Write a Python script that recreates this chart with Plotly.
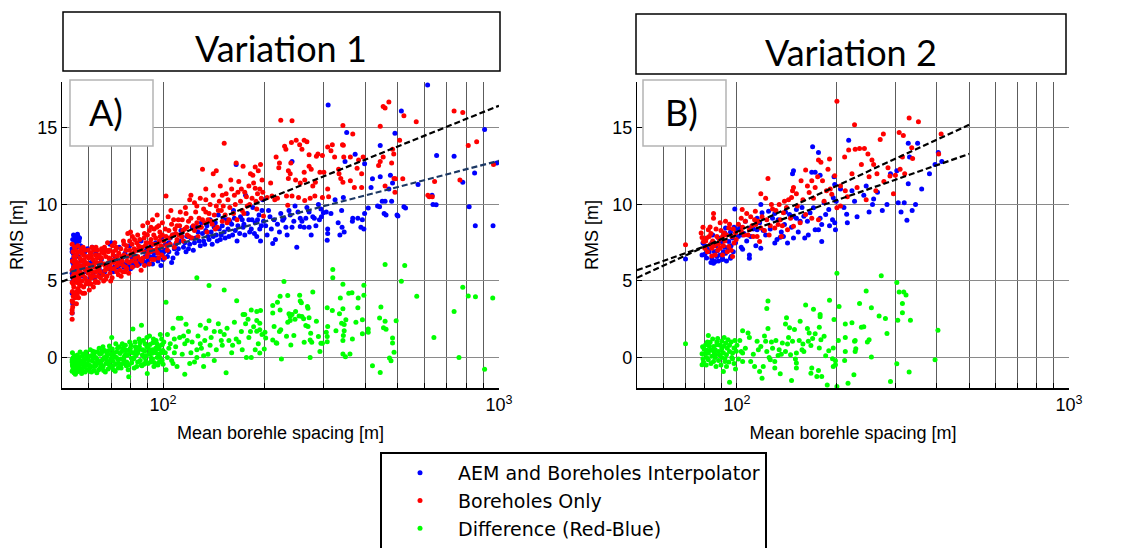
import plotly.graph_objects as go

# ---------------- data ----------------
# Panel A (Variation 1)
a_blue = [
    (53.6,2.9),(53.8,3.5),(53.6,4.2),(53.9,5.0),(53.6,5.5),(54.2,6.0),(53.7,6.4),(54.0,6.8),(53.6,7.1),(54.4,7.4),
    (53.8,7.7),(54.1,8.0),(55.0,7.8),(55.6,8.05),(56.2,7.6),(55.3,7.2),(56.8,7.3),(57.5,7.0),(58.5,6.9),(59.5,7.1),
    (56.0,6.6),(57.0,6.3),(58.0,6.0),(55.2,5.8),(59.0,5.6),(57.8,5.3),(60.5,5.2),(62.0,5.5),(61.0,6.2),(63.0,6.8),
    (61.5,7.2),(64.5,5.8),(65.5,6.4),(66.0,5.6),(67.0,7.0),(68.5,6.0),(69.5,7.4),(70.0,7.5),(71.0,5.6),(72.0,6.6),
    (73.0,5.9),(74.0,7.2),(75.0,6.3),(76.5,5.9),(77.0,6.8),(78.0,6.2),(79.5,7.3),(80.0,5.8),(81.0,6.5),(82.0,6.0),
    (83.0,7.0),(84.0,6.3),(85.0,6.1),(86.0,7.6),(87.0,6.4),(88.0,6.2),(89.0,7.0),(90.0,6.3),(91.0,6.6),(92.0,7.3),
    (93.0,6.1),(94.0,6.8),(95.0,7.5),(96.0,6.5),(97.0,7.0),(98.0,6.9),(99.0,7.8),(100,6.4),
    (53.7,5.3),(54.0,5.8),(53.8,6.2),(54.3,6.6),(53.6,6.9),(54.6,7.6),(55.2,7.5),(55.8,7.9),(54.8,7.9),(56.4,7.8),
    (60.0,4.9),(62.5,5.2),(64.8,5.4),(67.0,5.6),(69.0,5.8),(71.5,5.9),(74.0,6.0),(76.0,6.1),(78.5,6.0),(80.5,6.2),
    (83.0,6.4),(85.5,6.3),(88.5,6.6),(90.5,6.1),(93.5,6.6),(96.5,6.3),(99.5,6.7),(98.5,6.0),
    (101,7.0),(103,6.6),(104,7.5),(106,6.2),(107,8.0),(108,7.1),(110,6.8),(112,7.6),(113,8.3),(115,7.2),
    (117,6.9),(118,7.9),(120,7.4),(122,8.5),(123,7.0),(125,7.8),(127,8.2),(129,7.3),(130,8.8),(132,7.6),
    (134,8.3),(136,7.9),(138,9.0),(140,7.4),(142,8.5),(144,8.0),(146,9.3),(148,7.7),(150,8.6),(152,8.2),
    (155,9.0),(157,7.9),(160,8.7),(162,9.6),(164,8.3),(165,12.6),(166,7.6),(170,9.2),(173,8.5),(175,8.0),
    (176,10.6),(180,9.0),(183,8.4),(185,9.8),(188,8.8),(190,7.9),(193,9.3),(195,7.6),(196,8.6),(198,10.3),
    (100.5,6.9),(102,7.4),(104,6.9),(105,7.8),(107,6.5),(109,7.4),(111,7.1),(114,7.9),(116,7.5),(119,7.1),
    (121,7.8),(124,7.5),(126,8.5),(128,7.6),(131,8.1),(133,7.4),(135,8.6),(137,7.7),(139,8.2),(141,7.9),
    (143,8.8),(145,7.6),(147,8.4),(149,8.0),(151,9.1),(153,7.8),(156,8.4),(158,8.9),(161,8.0),(163,9.1),
    (167,8.6),(169,8.1),(172,9.0),(174,8.7),(178,9.4),(181,8.2),(184,9.0),(187,8.1),(191,9.0),(194,8.4),
    (197,9.6),(199,8.9),
    (202,8.6),(206,9.6),(210,8.4),(214,9.0),(219,8.7),(224,9.4),(229,9.1),(234,8.0),(239,9.3),(245,8.9),
    (252,9.5),(259,8.9),(268,9.8),(285,8.6),(292,9.0),
    (204,8.0),(208,9.2),(212,7.45),(216,7.7),(222,8.2),(227,8.97),(232,8.5),(237,9.6),(242,8.5),(242,12.8),
    (247,9.9),(250,7.2),(256,8.55),(256,9.1),(263,8.5),(266,9.1),(272,8.5),(272,9.5),(276,8.0),(279,9.2),
    (282,9.1),(290,10.0),(295,9.7),(296,9.2),(300,9.45),(306,9.5),(308,7.65),(309,8.4),(309,8.1),(310,16.5),
    (316,9.4),(325,10.3),(332,8.8),(336,8.0),(340,9.6),(341,8.5),(344,10.45),(346,8.2),(348,12.8),(352,14.7),
    (366,8.9),(367,9.1),(373,13.27),(380,9.1),(388,8.5),(392,9.0),(396,8.4),(398,9.4),(398,12.65),(408,9.76),
    (416,11.1),(420,11.67),(435,9.9),(441,9.85),(443,13.85),(443,11.8),(449,10.2),(455,9.4),(458,10.2),
    (461,9.3),(470,11.0),(475,11.9),(479,10.2),(482,11.4),(490,14.65),(497,9.3),(500,9.25),
    (512,16.1),(521,9.85),(527,9.76),(574,11.3),(613,17.8),(632,10.6),(636,10.0),(650,9.98),(652,13.2),
    (735,13.15),(780,11.45),(815,9.85),(846,12.05),(850,8.6),(906,14.9),(960,8.6),(985,12.7)]

a_red = [
    (53.6,2.5),(53.6,2.9),(53.8,3.3),(53.6,3.7),(54.0,4.0),(53.7,4.3),(54.2,4.6),(53.6,4.9),(54.4,5.1),(53.8,5.3),
    (54.6,5.5),(53.6,5.7),(54.1,5.9),(54.8,6.1),(53.7,6.3),(54.3,6.6),(53.9,6.9),(54.5,7.2),(53.6,7.4),
    (53.6,3.1),(53.9,3.6),(54.7,3.9),(55.3,4.3),(54.0,4.8),(55.0,5.2),(54.2,5.6),(55.5,5.9),(54.6,6.4),(55.2,6.7),
    (54.9,7.0),(55.7,7.3),(54.3,4.2),(55.9,5.0),(55.0,5.5),(54.4,6.2),
    (55.2,3.5),(55.5,4.1),(56.0,3.9),(55.8,4.5),(56.4,4.3),(56.9,4.7),(55.4,4.9),(57.3,5.0),(56.2,5.2),(58.0,4.6),
    (57.6,5.4),(55.9,5.6),(58.6,5.2),(56.7,5.8),(59.2,5.0),(57.9,6.0),(55.6,6.2),(58.8,5.7),(59.6,6.1),(56.5,6.5),
    (58.2,6.4),(57.2,6.8),(59.4,6.6),(55.8,6.9),(58.5,7.0),
    (56.3,4.8),(57.0,5.5),(57.6,4.2),(58.3,5.8),(59.0,4.8),(59.8,5.5),(56.6,6.0),(57.3,6.3),(58.0,6.7),(58.8,6.2),
    (59.4,5.8),(56.9,7.1),(57.8,7.2),(59.9,7.0),(56.1,5.4),(58.4,4.2),
    (60.3,4.4),(61.0,4.8),(62.0,4.6),(60.8,5.3),(63.0,5.0),(61.5,5.6),(64.0,5.3),(62.5,5.9),(60.5,6.0),(65.0,5.6),
    (63.5,6.2),(61.8,6.4),(64.7,6.0),(62.9,6.7),(60.9,6.8),(65.5,6.5),(63.8,7.0),(61.4,7.2),(65.8,6.9),
    (60.2,5.0),(61.2,5.2),(62.2,5.3),(63.2,5.6),(64.2,5.8),(65.3,6.2),(60.6,5.7),(61.6,6.0),(62.6,6.2),(63.6,6.5),
    (64.6,6.7),(65.6,7.1),(60.1,6.5),(61.1,6.6),(62.1,7.0),(63.1,7.2),(64.1,4.9),(65.1,5.2),(60.4,4.8),(62.8,4.9),
    (66.5,5.0),(68.0,5.3),(67.2,5.7),(69.5,5.5),(70.5,5.2),(66.8,6.1),(71.5,5.8),(68.8,6.2),(72.8,5.6),(70.0,6.4),
    (67.5,6.6),(73.5,6.2),(71.0,6.7),(69.2,7.0),(72.2,7.0),(66.9,7.2),(73.8,6.8),(70.6,7.3),(68.3,7.5),
    (66.2,5.4),(67.1,6.0),(68.1,5.8),(69.0,6.5),(70.2,5.8),(71.2,6.2),(72.1,6.4),(73.1,6.6),(66.6,6.8),(67.8,7.0),
    (69.4,6.0),(70.8,6.9),(72.5,7.2),(73.6,5.4),(68.6,6.9),(71.8,7.5),(67.4,5.1),(69.8,5.0),(72.9,6.0),(74.0,6.1),
    (75,5.3),(77,5.6),(79,5.5),(76,6.0),(81,5.9),(78,6.3),(83,6.2),(75.5,6.6),(80,6.7),(84,6.6),
    (77.5,7.0),(82,7.1),(85,7.0),(76.5,7.4),(79.5,7.6),(83.5,7.5),(81,7.9),(78.5,8.1),
    (74.5,5.7),(75.5,6.3),(76.5,6.7),(77.5,5.9),(78.5,6.6),(79.5,7.0),(80.5,6.3),(81.5,6.8),(82.5,6.5),(83.5,7.0),
    (84.5,7.3),(85.5,6.4),(74.8,7.1),(76.2,7.6),(77.8,7.3),(79.2,6.2),(80.8,7.4),(82.2,7.7),(83.8,6.0),(85.2,7.7),
    (80.0,8.2),(84.0,8.0),(76.0,5.6),(78.0,5.8),
    (86,5.7),(88,6.0),(91,6.1),(94,6.4),(97,6.5),(87,6.5),(90,6.8),(93,7.0),(96,7.1),(99,7.2),
    (86.5,7.2),(89,7.5),(92,7.7),(95,7.8),(98,7.9),(88,8.1),(91,8.3),(94,8.4),(97,8.6),(99.5,8.8),(87,8.6),(93,9.0),(96,9.3),
    (86.5,6.3),(87.5,6.9),(88.5,7.3),(89.5,6.6),(90.5,7.1),(91.5,7.5),(92.5,6.4),(93.5,7.4),(94.5,7.0),(95.5,7.4),
    (96.5,6.8),(97.5,7.6),(98.5,7.3),(99.5,8.0),(87.8,7.8),(89.8,8.0),(91.8,6.9),(93.8,8.0),(95.8,8.5),(97.8,8.2),
    (99.0,6.7),(90.0,8.8),(92.0,8.5),
    (101,6.5),(103,7.0),(105,7.4),(102,7.9),(104,8.3),(106,8.7),(102,10.55),(108,7.2),(110,7.7),(109,8.1),
    (112,8.6),(111,9.0),(114,9.0),(110,8.6),(115,7.6),(118,8.0),(116,8.4),(119,8.9),(120,10.3),(121,10.6),
    (117,9.4),(122,7.8),(124,8.3),(125,9.5),(126,8.8),(128,9.1),(127,7.9),(131,12.3),(130,8.5),(132,9.7),
    (134,11.0),(134,9.5),(136,9.0),(135,8.2),(138,10.0),(140,8.7),(141,12.0),(142,9.3),(144,12.2),(144,9.9),
    (145,8.5),(147,10.2),(149,9.6),(150,10.6),(150,8.9),(152,14.0),(153,9.3),(156,10.3),(158,9.8),(155,8.8),
    (160,11.0),(162,9.4),(164,10.0),(165,12.7),(166,9.0),(168,11.5),(170,10.2),(172,9.6),(173,12.5),(175,10.8),
    (178,9.9),(180,11.2),(182,12.0),(184,10.4),(186,11.4),(188,12.45),(188,11.05),(190,9.7),(191,10.7),(192,12.2),
    (195,12.6),(196,10.4),(197,11.6),(199,9.25),
    (100.5,7.6),(101.5,8.4),(102.5,7.3),(103.5,9.2),(104.5,7.8),(105.5,9.6),(106.5,8.0),(107.5,9.0),(108.5,8.4),(109.5,7.5),
    (111.5,8.0),(112.5,9.5),(113.5,7.9),(114.5,8.3),(116.5,9.8),(117.5,8.5),(119.5,7.9),(121,9.1),(123,8.6),(124,10.1),
    (126,9.9),(128,8.5),(129,10.4),(131,9.0),(133,8.8),(134,10.3),(137,9.4),(139,8.9),(141,10.6),(143,8.4),
    (146,9.6),(148,11.2),(151,9.9),(154,10.7),(157,9.0),(159,11.6),(163,10.6),(167,10.8),(171,11.0),(174,9.4),
    (177,10.5),(181,10.0),(185,11.9),(189,10.2),(194,11.0),(198,10.8),
    (204,10.45),(209,11.4),(211,10.55),(215,10.3),(217,13.1),(219,10.4),(222,12.7),(224,15.5),(221,12.4),(230,13.8),
    (232,13.6),(233,10.55),(235,9.95),(236,12.2),(236,11.7),(239,12.0),(240,12.7),(241,14.05),(242,15.46),(242,10.55),
    (248,11.6),(249,14.2),(253,10.45),(255,13.9),(256,11.4),(259,13.6),(263,14.2),(263,12.1),(264,11.6),(264,10.25),
    (268,14.1),(272,13.25),(272,12.5),(274,10.4),(276,12.3),(279,11.2),(283,10.55),(284,11.45),(286,13.15),(289,13.3),
    (293,12.1),(298,13.2),(298,10.45),(301,12.1),(309,13.75),(309,11.0),(311,10.5),(316,13.5),(319,13.9),(324,13.1),
    (333,12.3),(334,12.0),(338,11.7),(342,13.9),(343,15.15),(344,13.86),(345,13.1),(343,11.45),(361,13.1),(361,11.55),
    (367,14.6),(371,11.1),(378,12.37),(382,12.9),(390,12.0),(390,11.1),(394,13.1),(438,12.55),(443,15.1),(443,12.8),
    (452,16.4),(452,13.1),(458,11.2),(458,16.3),(470,16.7),(479,12.7),(482,13.6),(486,13.3),(487,11.7),(490,10.8),
    (492,11.67),(506,14.2),(517,11.67),(521,15.8),(567,15.4),(614,10.6),(620,10.5),(633,10.5),(643,11.5),
    (735,16.1),(765,11.6),(780,16.0),(810,13.85),(858,14.1),(963,12.6)]

a_green = [
    (53.6,-0.9),(53.8,-0.6),(53.6,-0.3),(54.0,0.0),(53.7,0.3),(54.3,-1.0),(54.6,-0.45),(55.0,-0.75),(55.2,-0.15),(55.6,0.15),
    (56.0,-0.9),(56.3,-0.5),(56.8,-0.2),(57.2,-1.05),(57.5,0.1),(58.0,-0.65),(58.4,-0.35),(58.9,0.35),(59.3,-0.8),(59.8,-0.1),
    (60.2,-0.5),(60.7,0.5),(61.2,-0.95),(61.6,-0.25),(62.1,0.2),(62.6,-0.6),(63.0,0.0),(63.5,-1.0),(64.0,-0.35),(64.5,0.6),
    (65.0,-0.7),(65.5,0.25),(66.0,-0.15),(66.5,-0.85),(67.0,0.45),(67.5,-0.4),(68.0,0.1),(68.6,-0.75),(69.2,0.75),(69.8,-0.2),
    (70.3,1.3),(70.8,-0.55),(71.4,0.3),(72.0,-0.9),(72.6,0.0),(73.2,0.6),(73.8,-0.4),(74.5,0.25),(75.0,-0.7),(75.6,0.9),
    (76.3,-0.15),(77.0,0.5),(77.7,-0.55),(78.4,0.15),(79.0,-1.27),(79.5,1.0),(80.0,0.35),(80.6,-0.35),(81.3,1.86),(82.0,0.0),
    (82.7,0.7),(83.4,-0.6),(84.1,0.3),(84.8,1.2),(85.5,-0.2),(86.2,2.1),(86.9,0.5),(87.6,-0.45),(88.3,0.9),(89.0,0.1),
    (89.7,-1.05),(90.4,0.6),(91.1,1.4),(91.8,-0.3),(92.5,0.25),(93.2,0.95),(93.9,-0.6),(94.6,0.45),(95.3,1.1),(96.0,0.0),
    (96.7,0.7),(97.4,-0.3),(98.1,1.5),(98.8,0.3),(99.5,0.85),(100,-0.44),
    (53.6,-0.15),(54.8,-1.1),(55.8,-0.35),(56.6,0.35),(57.8,-0.45),(58.6,-0.95),(59.6,0.05),(60.4,-0.7),(61.8,0.4),(62.8,-0.4),
    (63.8,0.35),(65.2,-0.25),(66.2,0.7),(67.8,-0.1),(68.9,-0.45),(70.0,0.2),(71.0,-0.25),(72.3,0.9),(73.5,-0.7),(74.8,-0.1),
    (76.0,0.6),(77.3,0.2),(78.7,-0.8),(80.3,0.8),(81.7,-0.1),(83.0,0.45),(85.0,0.7),(86.5,-0.55),(88.0,0.0),(89.5,1.3),
    (91.5,0.4),(93.0,-0.1),(95.0,0.6),(97.0,0.2),(99.0,1.2),
    (53.7,-0.5),(53.9,-0.8),(54.2,-0.2),(54.5,0.1),(54.9,-0.6),(55.3,-0.95),(55.7,-0.4),(56.1,0.0),(56.5,-0.7),(56.9,-0.35),
    (57.4,-0.8),(57.9,0.2),(58.3,-0.1),(58.7,-0.55),(59.1,0.15),(59.5,-0.45),(60.0,-0.2),(60.5,-0.9),(61.0,0.1),(61.4,-0.6),
    (61.9,-0.05),(62.3,-0.85),(62.9,0.35),(63.3,-0.5),(63.7,-0.15),(64.3,-0.8),(64.8,0.2),(65.3,-0.45),(65.8,0.4),(66.3,-0.6),
    (66.8,0.0),(67.3,-0.95),(67.9,0.3),(68.4,-0.3),(69.0,0.45),(69.5,-0.65),(70.1,-0.05),(70.6,0.55),(71.2,-0.8),(71.7,0.05),
    (72.2,-0.45),(72.8,0.35),(73.4,-0.15),(74.0,0.7),(74.6,-0.55),(75.3,0.4),(75.9,-0.4),(76.6,0.05),(77.2,0.8),(77.9,-0.3),
    (78.5,0.45),(79.2,-0.5),(79.9,0.6),(80.5,-0.05),(81.2,0.3),(82.0,-0.7),(82.5,1.0),(83.2,0.15),(84.0,-0.3),(84.6,0.5),
    (85.3,0.95),(86.0,-0.5),(86.7,0.15),(87.3,1.1),(88.1,0.4),(88.8,-0.25),(89.4,0.7),(90.1,-0.4),(90.8,0.2),(91.4,0.85),
    (92.2,-0.05),(92.9,0.5),(93.6,1.2),(94.3,-0.35),(95.1,0.3),(95.8,0.9),(96.5,-0.5),(97.2,0.55),(97.9,0.0),(98.6,0.8),
    (99.3,-0.2),(99.8,0.45),
    (100.5,1.0),(101.5,0.3),(103,1.5),(105,0.9),(106,-0.2),(107,1.9),(109,0.7),(110,-0.6),(112,1.3),(114,0.2),
    (116,0.9),(119,1.7),(122,1.0),(124,-0.3),(127,1.4),(130,0.6),(134,1.9),(136,0.2),(139,1.3),(144,0.5),
    (146,2.2),(150,0.8),(155,1.9),(160,0.3),(163,2.3),(168,1.0),(172,0.5),(180,1.3),(186,2.0),(192,0.9),(197,1.5),
    (102,3.6),(102,-0.8),(103,0.0),(104,0.6),(107,-0.4),(108,1.2),(108,0.3),(111,2.56),(113,2.56),(115,1.4),
    (116,-1.1),(117,2.17),(118,1.1),(120,-0.4),(121,0.3),(126,5.2),(126,0.5),(126,0.0),(129,2.1),(129,0.9),
    (132,0.1),(132,-0.6),(133,1.1),(137,4.7),(137,2.4),(138,0.8),(142,1.7),(142,-0.2),(148,1.7),(149,1.1),
    (152,4.4),(152,1.5),(154,-1.0),(157,1.1),(161,0.8),(165,1.2),(165.6,3.7),(171,1.7),(173,2.8),(175,2.8),
    (176,2.2),(177,0.0),(179,2.5),(182,1.7),(183,3.1),(183,0.0),(188,0.5),(190,3.0),(190,2.41),(190,1.71),
    (194,1.8),(194,2.24),(194,0.28),(195,3.07),(200,0.55),(201,1.64),(202,1.27),
    (212,3.4),(212,2.9),(212,1.14),(214,2.02),(217,0.96),(218,0.92),(219,3.6),(222,1.69),(223,4.0),(223,3.1),
    (224,1.8),(225,-0.11),(229,4.96),(233,1.38),(235,4.04),(235,2.3),(237,2.85),(239,2.67),(239,2.41),(240,0.81),
    (242,2.8),(245,1.43),(247,2.5),(248,3.0),(254,2.7),(255,4.06),(256,3.68),(258,3.57),(259,2.67),(262,2.52),
    (263,0.99),(266,2.08),(269,3.33),(270,3.22),(270,2.02),(272,2.59),(274,1.14),(274,0.0),(275,1.58),(277,0.99),
    (279,4.28),(286,2.37),(290,1.36),(293,0.39),(295,0.92),(298,0.92),(306,1.64),(308,3.25),(308,1.36),(308,1.03),
    (309,2.02),(319,3.07),(320,5.75),(320,5.2),(327,1.75),(335,2.85),(337,3.88),(340,2.24),(343,4.78),(343,3.18),
    (343,0.22),(343,1.1),(344,1.43),(346,2.15),(346,1.75),(349,0.04),(350,2.46),(357,4.2),(360,0.22),(365,4.23),
    (366,1.2),(375,2.3),(380,3.25),(381,3.88),(392,2.46),(392,1.54),(396,4.72),(396,4.06),(408,1.86),(408,1.64),
    (420,-0.55),(441,2.57),(443,-0.99),(445,3.29),(453,1.93),(458,6.07),(458,2.37),(461,1.84),(472,-0.04),(477,-0.22),
    (482,1.27),(482,0.94),(487,0.33),(494,2.4),(512,4.98),(524,6.0),(569,4.0),(640,1.3),(735,3.0),(760,0.0),
    (780,4.58),(810,4.02),(851,3.97),(906,-0.78),(958,3.88)]

# Panel B (Variation 2)
b_blue = [
    (70,6.43),(78.5,6.7),(79,7.47),(80,6.74),(81.7,7.07),(84,6.48),(84,7.47),(84.5,8.0),(85,6.15),(85,6.26),
    (86,6.26),(87,6.6),(87,6.96),(88,7.8),(89,6.7),(90.5,6.48),(90.5,6.4),(90.5,7.58),(92,7.2),(92,8.13),
    (92.4,6.8),(92.4,8.46),(94.5,7.58),(95.6,6.48),(95.6,8.2),(96,6.6),(97,7.8),(98,8.5),(98.5,9.7),(100,8.35),
    (80,7.3),(81,6.5),(82.5,6.9),(83.5,6.2),(85.5,6.9),(86.5,7.3),(88,6.3),(89,7.6),(91,6.9),(93,6.3),
    (94,7.0),(96,7.3),(97.5,6.9),(99,7.5),(101,7.9),(103,7.2),(105,8.1),(107,7.6),(110,7.9),(112,8.4),
    (114,7.3),(120,8.3),(126,8.4),(133,9.0),(138,7.9),(146,8.5),(153,8.2),(157,9.8),(164,8.0),(178,9.1),
    (183,10.1),(190,8.6),
    (102,8.5),(103.7,8.0),(104,7.07),(106,8.9),(109,6.48),(109,6.7),(109.6,8.46),(115,8.35),(115,9.1),(117,8.8),
    (118,7.14),(118,10.0),(119,9.45),(122,8.0),(124.5,9.56),(128,9.1),(130,7.47),(130,9.4),(132,7.7),(135,7.86),
    (136,8.2),(139,8.68),(140,9.5),(142,7.47),(144,9.34),(147,12.0),(148,9.23),(148,12.2),(148,7.8),(151,9.1),
    (151,9.67),(155,8.9),(159,9.23),(160,7.8),(163,8.9),(166,9.45),(168,12.1),(169,13.77),(170,9.78),(172,12.1),
    (172,8.35),(176,13.4),(176,8.35),(178,11.9),(180,8.68),(180,7.58),(185,9.34),(189,9.67),(195,10.44),(197,8.8),
    (194,9.0),(196,11.8),(197,11.3),(198,8.35),(199,10.2),(205,11.0),(210,9.8),(214,9.35),(215,8.8),(217,14.2),
    (222,10.9),(226,10.2),(230,9.2),(241,10.6),(245,11.2),(250,9.5),(256,10.0),(258,10.35),(265,10.8),(274,9.6),
    (283,10.0),(290,12.0),(303,12.2),(306,10.1),(312,9.5),(319,10.1),(325,8.97),(328,14.0),(328,11.35),(331,13.1),
    (337,9.6),(345,10.0),(350,14.0),(360,11.0),(380,12.0),(395,12.6),(404,13.4),(414,12.8)]

b_red = [
    (70,7.36),(78,8.13),(78.5,7.84),(79.3,7.58),(81,7.8),(80,7.14),(82,8.35),(83,8.52),(83,7.36),(84,7.14),
    (84,6.63),(84.5,7.6),(85,9.4),(85,9.1),(86,6.7),(87,7.9),(88,7.4),(89,8.8),(89,7.14),(90.5,6.7),
    (91.5,8.13),(92,7.6),(92.4,8.9),(94.5,8.46),(94.5,7.25),(96,7.0),(97,6.6),(98,7.47),(99,8.13),
    (79,8.5),(80.5,7.6),(81.5,6.9),(82.5,7.9),(83.5,8.1),(85.5,7.3),(86.5,8.4),(87.5,7.0),(88.5,7.7),(89.5,8.3),
    (90.5,7.9),(91,7.3),(93,8.0),(93.5,6.9),(95,8.7),(96.5,7.9),(97.5,8.4),(99.5,7.7),(101,8.7),(104,8.5),
    (107,9.4),(108,8.0),(111,8.6),(113,9.0),(115,7.9),(119,9.2),(121,8.3),(123,9.0),(126,8.6),(127,10.0),
    (131,9.6),(134,10.0),(137,8.6),(141,9.8),(145,9.1),(152,9.9),(158,10.3),(163,11.2),(170,10.4),(175,11.8),
    (186,10.9),(188,12.3),
    (103,8.24),(103,9.1),(103.7,9.67),(105,8.0),(106,8.9),(109,8.35),(110,9.2),(112,7.9),(113.6,9.56),(114,8.68),
    (116,8.9),(117,7.58),(118,8.46),(118,10.7),(122,10.4),(124,11.7),(125,8.0),(128,9.7),(130,8.46),(133,8.68),
    (135,9.0),(136,7.9),(138,9.45),(139,10.2),(142,8.35),(143,10.3),(146,10.45),(147,10.9),(148,11.1),(148,8.57),
    (151,10.7),(155,8.8),(156,11.54),(161,12.25),(161,9.34),(165,10.77),(168,11.54),(168,9.1),(172,11.1),(176,12.9),
    (176,9.0),(179,12.75),(181,11.54),(183,10.2),(190,12.97),(191,11.0),(193,10.66),(197,11.87),(200,9.78),
    (200,16.74),(205,11.2),(205,9.9),(211,13.1),(212,10.9),(215,10.5),(217,13.55),(222,12.0),(226,15.2),(227,13.6),
    (230,11.1),(234,13.65),(237,12.6),(242,13.65),(245,10.3),(248,13.3),(250,11.8),(255,12.9),(258,12.6),(262,10.9),
    (264,12.0),(270,14.25),(276,14.6),(277,11.5),(285,12.4),(289,11.85),(296,10.7),(300,11.9),(308,14.7),(310,12.3),
    (315,13.1),(317,14.5),(320,12.0),(330,15.64),(336,13.7),(338,13.0),(352,15.4),(405,13.3),(412,14.6)]

b_green = [
    (70,0.9),(78.5,0.24),(78.5,-0.48),(79,-0.09),(79.6,0.55),(80.5,0.83),(81,0.46),(81,0.0),(82,1.43),(82,-0.15),
    (82,0.28),(83,0.48),(83,0.99),(84,0.07),(84,0.46),(85,-0.26),(85,0.72),(86,0.5),(86,0.17),(86,0.0),
    (87,0.83),(87.5,1.23),(88,0.39),(88.5,0.17),(90,0.57),(90,1.05),(90,0.0),(91,-0.92),(91.5,1.3),(92,-0.26),
    (92,-0.09),(92.5,0.94),(93,-0.59),(93,0.17),(94,1.16),(95,-1.62),(95,0.79),(95,0.39),(97,-0.09),(97,0.28),
    (98,0.61),(98.5,1.1),(99,-0.75),
    (78.8,0.7),(79.3,-0.3),(80,0.25),(80.8,-0.5),(81.5,1.0),(82.5,0.75),(83.5,-0.4),(84.5,1.2),(85.5,0.3),(86.5,-0.6),
    (87,1.0),(88,-0.2),(89,0.8),(89.5,-0.5),(91,0.3),(91.5,0.75),(93.5,0.6),(94.5,-0.3),(96,1.0),(96.5,0.0),
    (98,-0.4),(99.5,0.4),(101,-0.1),(102,1.1),(106,0.6),(109,1.3),(112,0.2),(116,0.5),(120,-0.6),(121,1.4),
    (128,0.6),(136,0.2),(143,1.3),(150,-0.1),(157,0.5),(165,1.6),(185,0.1),
    (100,0.79),(103,0.39),(104,-0.26),(104,0.28),(104,1.75),(108,1.6),(110,-0.26),(113,-0.59),(115,1.05),(117,-0.92),
    (118,0.72),(119,-1.36),(122,1.05),(123,3.2),(123,0.39),(124,3.68),(124,1.89),(125,0.0),(126,-0.15),(127,1.0),
    (130,-0.26),(130,-0.7),(131,1.1),(133,0.13),(134,0.5),(135,-1.07),(137,0.94),(140,2.19),(140,0.39),(141,2.59),
    (142,0.88),(144,1.93),(145,0.17),(146,-1.51),(147,1.05),(149,1.82),(151,-0.37),(151,-0.7),(151,0.28),(154,1.1),
    (155,2.37),(158,0.88),(159,0.39),(161,3.42),(163,1.89),(164,1.05),(167,-1.03),(167,0.77),(168,-0.7),(169,1.23),
    (170,3.14),(172,1.54),(174,-1.25),(176,-0.86),(177,1.97),(177,0.61),(178,2.8),(178,2.65),(179,1.16),(180,-1.25),
    (183,1.38),(187,-1.8),(189,0.44),(190,3.73),(194,-0.09),(195,0.61),(195,-0.59),(196,2.48),(198,-0.48),(198,-0.22),
    (200,5.5),(200,-1.9),(202,1.1),(203,3.33),(211,-0.2),(212,0.39),(212,1.3),(212,2.19),(216,-1.69),(222,2.26),
    (225,-1.14),(226,1.05),(227,1.1),(227,0.39),(228,0.57),(234,3.53),(237,1.97),(241,2.0),(245,4.34),(247,1.0),
    (250,1.16),(254,0.02),(254,3.25),(268,2.7),(272,5.33),(280,2.54),(283,1.56),(290,-1.58),(303,4.9),(303,-0.42),
    (305,2.43),(308,4.28),(315,3.53),(315,2.92),(318,4.28),(323,4.08),(330,-0.96),(333,2.43),(395,-0.15),(403,1.78)]

# fitted trend lines (end points)
fit_a_x = [50, 1000]
fit_a_red = [4.95, 16.45]
fit_a_blue = [5.45, 12.85]
fit_b_x = [50, 500]
fit_b_red = [5.2, 15.2]
fit_b_blue = [5.7, 13.3]

series_names = ["AEM and Boreholes Interpolator", "Boreholes Only", "Difference (Red-Blue)"]
series_colors = ["#0000ff", "#ff0000", "#00ff00"]
panel_titles = ["Variation 1", "Variation 2"]
panel_labels = ["A)", "B)"]
x_major = [100, 1000]
x_major_text = ["10<sup>2</sup>", "10<sup>3</sup>"]
x_minor = [60, 70, 80, 90, 200, 300, 400, 500, 600, 700, 800, 900]
y_ticks = [0, 5, 10, 15]

# ---------------- layout helpers ----------------
W, H = 1128, 548
ML, MR, MT, MB = 62, 59, 82, 160
PW = W - ML - MR
PH = H - MT - MB


def px(xp):
    return (xp - ML) / PW


def py(yp):
    return (H - MB - yp) / PH


def unzip(pairs):
    xs, ys = zip(*pairs)
    return list(xs), list(ys)


fig = go.Figure()

panels = [("x", "y", [a_blue, a_red, a_green], True),
          ("x2", "y2", [b_blue, b_red, b_green], False)]
for xa, ya, sets, show in panels:
    for i, pts in enumerate(sets):
        xs, ys = unzip(pts)
        fig.add_trace(go.Scatter(
            x=xs, y=ys, mode="markers", name=series_names[i],
            marker=dict(color=series_colors[i], size=5, line=dict(width=0)),
            xaxis=xa, yaxis=ya, showlegend=show, legendgroup=f"g{i}",
            hoverinfo="skip"))

dash = "6px,3px"
fig.add_trace(go.Scatter(x=fit_a_x, y=fit_a_red, mode="lines", xaxis="x", yaxis="y",
                         line=dict(color="black", width=2.2, dash=dash), showlegend=False))
fig.add_trace(go.Scatter(x=fit_a_x, y=fit_a_blue, mode="lines", xaxis="x", yaxis="y",
                         line=dict(color="#1c3864", width=2.2, dash=dash), showlegend=False))
fig.add_trace(go.Scatter(x=fit_b_x, y=fit_b_red, mode="lines", xaxis="x2", yaxis="y2",
                         line=dict(color="black", width=2.2, dash=dash), showlegend=False))
fig.add_trace(go.Scatter(x=fit_b_x, y=fit_b_blue, mode="lines", xaxis="x2", yaxis="y2",
                         line=dict(color="black", width=2.2, dash=dash), showlegend=False))

axis_font = dict(family="Liberation Sans, Arial, sans-serif", size=18, color="black")
grid_v = "#5c5c5c"
xcommon = dict(type="log", range=[1.69897, 3], tickmode="array", tickvals=x_major, ticktext=x_major_text,
               ticks="inside", ticklen=5, tickcolor="black", showgrid=True, gridcolor=grid_v, gridwidth=1,
               minor=dict(tickmode="array", tickvals=x_minor, ticks="inside", ticklen=5, tickcolor="black",
                          showgrid=True, gridcolor=grid_v, gridwidth=1),
               showline=True, linecolor="black", linewidth=1.5, zeroline=False, tickfont=axis_font,
               title=dict(text="Mean borehle spacing [m]", font=axis_font, standoff=12), automargin=False)
ycommon = dict(range=[-2, 18], tickmode="array", tickvals=y_ticks, ticks="inside", ticklen=5, tickcolor="black",
               showgrid=True, gridcolor="#8a8a8a", gridwidth=1, showline=True, linecolor="black", linewidth=1.2,
               zeroline=False, tickfont=axis_font, title=dict(text="RMS [m]", font=axis_font, standoff=8),
               automargin=False)

fig.update_layout(
    width=W, height=H,
    margin=dict(l=ML, r=MR, t=MT, b=MB, autoexpand=False),
    paper_bgcolor="white", plot_bgcolor="white",
    xaxis=dict(domain=[px(62), px(499)], anchor="y", **xcommon),
    yaxis=dict(domain=[0, 1], anchor="x", **ycommon),
    xaxis2=dict(domain=[px(637), px(1069)], anchor="y2", **xcommon),
    yaxis2=dict(domain=[0, 1], anchor="x2", **ycommon),
    legend=dict(x=px(380), y=py(452), xanchor="left", yanchor="top", xref="paper", yref="paper",
                bgcolor="white", bordercolor="black", borderwidth=2,
                font=dict(family="DejaVu Sans, sans-serif", size=19, color="black"),
                itemwidth=66, tracegroupgap=5, traceorder="normal"),
    showlegend=True,
)

shapes = []
# title boxes
for (x0, y0, x1, y1) in [(63, 12, 500, 71), (636, 14, 1066, 74)]:
    shapes.append(dict(type="rect", xref="paper", yref="paper", x0=px(x0), x1=px(x1), y0=py(y1), y1=py(y0),
                       line=dict(color="black", width=1.5), fillcolor="white", layer="above"))
# label boxes
for (x0, y0, x1, y1) in [(70, 80, 153, 146), (643, 80, 726, 146)]:
    shapes.append(dict(type="rect", xref="paper", yref="paper", x0=px(x0), x1=px(x1), y0=py(y1), y1=py(y0),
                       line=dict(color="#b4b4b4", width=1.5), fillcolor="white", layer="above"))
fig.update_layout(shapes=shapes)

title_font = dict(family="Lato, Open Sans, sans-serif", size=36, color="black")
annots = []
for txt, (cx, cy) in zip(panel_titles, [(281, 48), (851, 52)]):
    annots.append(dict(text=txt, x=px(cx), y=py(cy), xref="paper", yref="paper", showarrow=False,
                       xanchor="center", yanchor="middle", font=title_font))
for txt, (cx, cy) in zip(panel_labels, [(105.5, 112), (681, 112)]):
    annots.append(dict(text=txt, x=px(cx), y=py(cy), xref="paper", yref="paper", showarrow=False,
                       xanchor="center", yanchor="middle", font=title_font))
fig.update_layout(annotations=annots)

fig.write_html("out.html", config={"displayModeBar": False},
               post_script="document.body.style.margin='0px';")
